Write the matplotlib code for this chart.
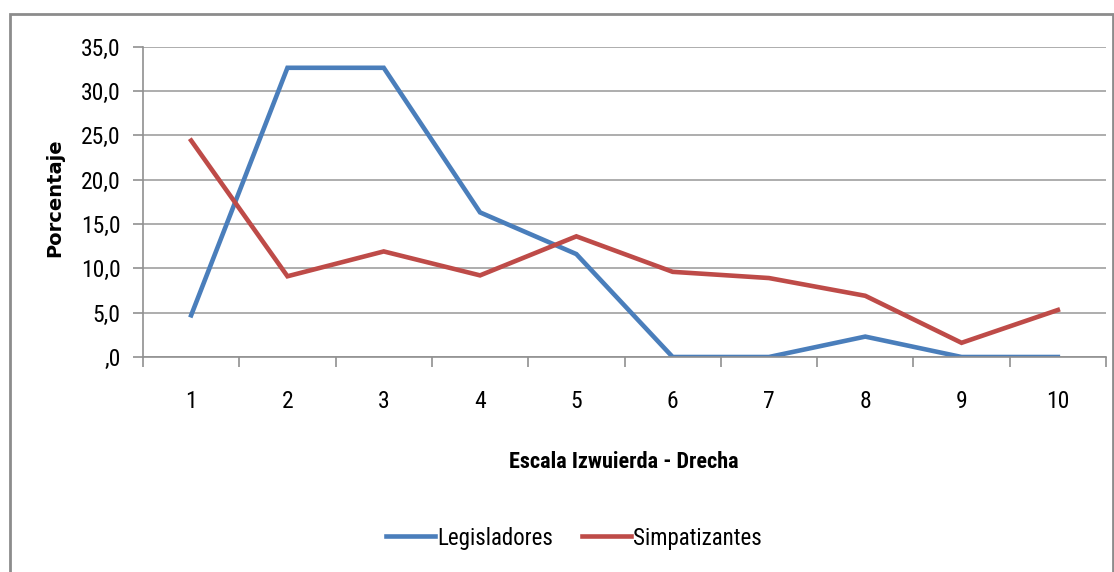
import matplotlib
matplotlib.use("Agg")

import matplotlib.pyplot as plt
from matplotlib.patches import Rectangle
from matplotlib.ticker import FuncFormatter, FixedLocator
from matplotlib import font_manager

categories = [1, 2, 3, 4, 5, 6, 7, 8, 9, 10]
legisladores = [4.7, 32.6, 32.6, 16.3, 11.6, 0.0, 0.0, 2.3, 0.0, 0.0]
simpatizantes = [24.4, 9.1, 11.9, 9.2, 13.6, 9.6, 8.9, 6.9, 1.6, 5.3]

# narrow fonts first if any are around, else Lato (closest to Calibri)
names = {f.name for f in font_manager.fontManager.ttflist}
wanted = ["Liberation Sans Narrow", "Roboto Condensed", "Open Sans Condensed", "Lato"]
fam = [n for n in wanted if n in names][:1]
plt.rcParams["font.family"] = fam + ["DejaVu Sans"]


def fmt(v, pos):
    s = f"{v:.1f}".replace(".", ",")
    if s.startswith("0,"):
        s = s[1:]
    return s


fig = plt.figure(figsize=(11.14, 5.72), dpi=100)
W, H = 1114, 572
ax = fig.add_axes([143 / W, 1 - 357 / H, (1106 - 143) / W, (357 - 46.5) / H])

ax.plot(categories, legisladores, color="#4A7EBB", lw=3.3, label="Legisladores",
        solid_joinstyle="miter")
ax.plot(categories, simpatizantes, color="#BE4B48", lw=3.3, label="Simpatizantes",
        solid_joinstyle="miter")

ax.set_xlim(0.5, 10.5)
ax.set_ylim(0, 35)
ax.set_yticks(range(0, 36, 5))
ax.yaxis.set_major_formatter(FuncFormatter(fmt))
ax.grid(axis="y", color="#a0a0a0", lw=1.2)
ax.set_axisbelow(True)

ax.set_xticks(categories)
ax.set_xticklabels([str(c) for c in categories])
ax.xaxis.set_minor_locator(FixedLocator([c + 0.5 for c in range(0, 11)]))
ax.tick_params(axis="x", which="major", length=0, pad=24, labelsize=17)
ax.tick_params(axis="x", which="minor", length=7, color="#909090", width=1.2)
ax.tick_params(axis="y", length=7, color="#909090", width=1.2, labelsize=17, pad=9)

for s in ["top", "right"]:
    ax.spines[s].set_visible(False)
for s in ["left", "bottom"]:
    ax.spines[s].set_color("#909090")
    ax.spines[s].set_linewidth(1.2)

# rotated label is not squeezed in the original, so a wider face fits better
fig.text(55 / W, 1 - 198 / H, "Porcentaje", rotation=90, ha="center", va="center",
         fontsize=14, fontweight="bold", family="DejaVu Sans")
fig.text(624 / W, 1 - 462 / H, "Escala Izwuierda - Drecha", ha="center", va="center",
         fontsize=16, fontweight="bold")

fig.legend(loc="center", bbox_to_anchor=(574 / W, 1 - 538 / H), ncol=2,
           frameon=False, fontsize=16.5, handlelength=2.1, handletextpad=0.1,
           columnspacing=1.3)

fig.patches.append(Rectangle((10 / W, -0.05), (1113 - 10) / W, 1.05 - 14 / H,
                             transform=fig.transFigure, fill=False,
                             edgecolor="#8c8c8c", lw=2))

fig.savefig("out.png", dpi=100)
